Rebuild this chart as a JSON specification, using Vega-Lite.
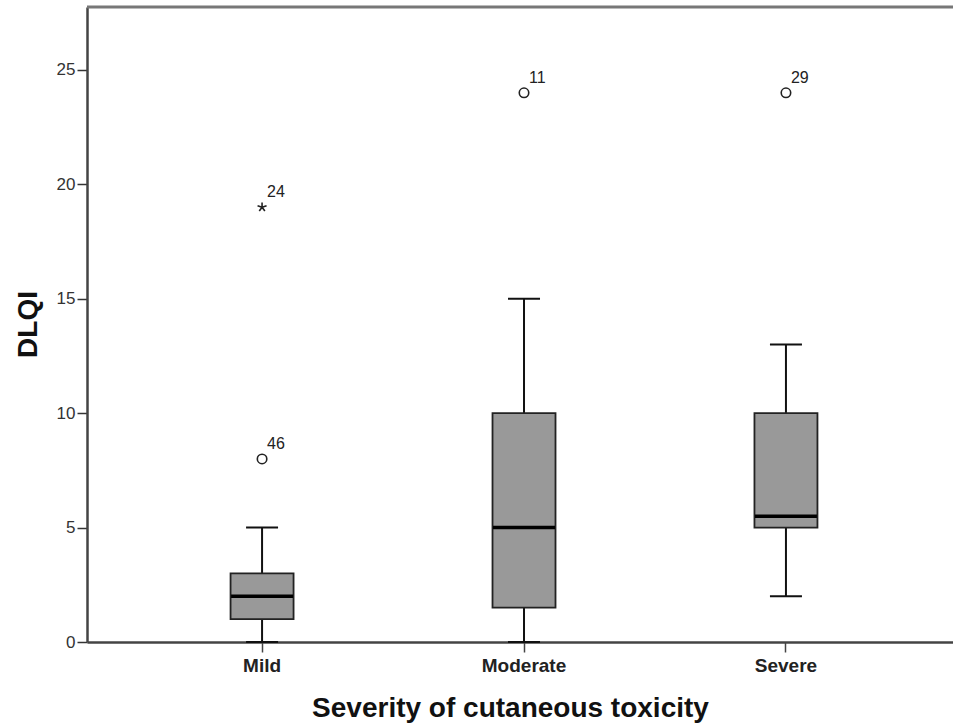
{
  "$schema": "https://vega.github.io/schema/vega-lite/v6.json",
  "autosize": {"type": "none"},
  "padding": {"left": 87, "top": 7, "right": 0, "bottom": 85},
  "width": 866,
  "height": 635,
  "background": "white",
  "config": {
    "view": {"stroke": null},
    "font": "Liberation Sans",
    "axis": {"grid": false}
  },
  "datasets": {
    "boxes": [
      {"severity": "Mild", "low": 0, "q1": 1, "median": 2, "q3": 3, "high": 5},
      {"severity": "Moderate", "low": 0, "q1": 1.5, "median": 5, "q3": 10, "high": 15},
      {"severity": "Severe", "low": 2, "q1": 5, "median": 5.5, "q3": 10, "high": 13}
    ],
    "outliers": [
      {"severity": "Mild", "DLQI": 8, "case": "46", "kind": "outlier"},
      {"severity": "Mild", "DLQI": 19, "case": "24", "kind": "extreme"},
      {"severity": "Moderate", "DLQI": 24, "case": "11", "kind": "outlier"},
      {"severity": "Severe", "DLQI": 24, "case": "29", "kind": "outlier"}
    ]
  },
  "encoding": {
    "x": {
      "field": "severity",
      "type": "nominal",
      "sort": ["Mild", "Moderate", "Severe"],
      "scale": {"type": "band", "paddingInner": 0, "paddingOuter": 0.153, "align": 0.55},
      "axis": {
        "title": "Severity of cutaneous toxicity",
        "labelAngle": 0,
        "labelFont": "Liberation Sans",
        "labelFontWeight": "bold",
        "labelFontSize": 19,
        "labelColor": "#222",
        "labelPadding": 4,
        "tickSize": 10,
        "tickWidth": 1.5,
        "tickColor": "#444",
        "domainColor": "#444",
        "domainWidth": 2.5,
        "titleFont": "Liberation Sans",
        "titleFontWeight": "bold",
        "titleFontSize": 28,
        "titleColor": "#111",
        "titleX": 423,
        "titleY": 66,
        "titleBaseline": "middle"
      }
    }
  },
  "layer": [
    {
      "data": {"values": [{"top": 27.75}]},
      "mark": {"type": "rule", "stroke": "#777", "strokeWidth": 3},
      "encoding": {"x": null, "y": {"field": "top", "type": "quantitative", "scale": {"domain": [0, 27.75], "nice": false}}}
    },
    {
      "data": {"name": "boxes"},
      "mark": {"type": "rule", "stroke": "#111", "strokeWidth": 2},
      "encoding": {
        "y": {
          "field": "low",
          "type": "quantitative",
          "scale": {"domain": [0, 27.75], "nice": false, "zero": false},
          "axis": {
            "title": "DLQI",
            "values": [0, 5, 10, 15, 20, 25],
            "labelFont": "Liberation Sans",
            "labelFontSize": 17,
            "labelColor": "#333",
            "labelPadding": 2,
            "tickSize": 10,
            "tickWidth": 1.5,
            "tickColor": "#333",
            "domainColor": "#444",
            "domainWidth": 2.5,
            "titleFont": "Liberation Sans",
            "titleFontWeight": "bold",
            "titleFontSize": 28,
            "titleColor": "#111",
            "titleX": -59,
            "titleY": 317,
            "titleAngle": 270,
            "titleAlign": "center",
            "titleBaseline": "middle"
          }
        },
        "y2": {"field": "high"}
      }
    },
    {
      "data": {"name": "boxes"},
      "mark": {"type": "tick", "color": "#111", "size": 32, "thickness": 2, "opacity": 1},
      "encoding": {"y": {"field": "low", "type": "quantitative"}}
    },
    {
      "data": {"name": "boxes"},
      "mark": {"type": "tick", "color": "#111", "size": 32, "thickness": 2, "opacity": 1},
      "encoding": {"y": {"field": "high", "type": "quantitative"}}
    },
    {
      "data": {"name": "boxes"},
      "mark": {"type": "bar", "size": 63, "fill": "#999999", "stroke": "#222", "strokeWidth": 1.8, "opacity": 1},
      "encoding": {"y": {"field": "q1", "type": "quantitative"}, "y2": {"field": "q3"}}
    },
    {
      "data": {"name": "boxes"},
      "mark": {"type": "tick", "color": "#000", "size": 62, "thickness": 3.5, "opacity": 1},
      "encoding": {"y": {"field": "median", "type": "quantitative"}}
    },
    {
      "data": {"name": "outliers"},
      "mark": {"type": "point", "filled": false, "stroke": "#222", "strokeWidth": 1.6, "opacity": 1},
      "encoding": {
        "y": {"field": "DLQI", "type": "quantitative"},
        "shape": {
          "field": "kind",
          "type": "nominal",
          "scale": {"domain": ["outlier", "extreme"], "range": ["circle", "M0,0L0,-1M0,0L0.95,-0.31M0,0L0.59,0.81M0,0L-0.59,0.81M0,0L-0.95,-0.31"]},
          "legend": null
        },
        "size": {"value": 90}
      }
    },
    {
      "data": {"name": "outliers"},
      "mark": {"type": "text", "align": "left", "baseline": "middle", "dx": 5, "dy": -15, "fontSize": 16, "font": "Liberation Sans", "fill": "#222"},
      "encoding": {
        "y": {"field": "DLQI", "type": "quantitative"},
        "text": {"field": "case", "type": "nominal"}
      }
    }
  ]
}
